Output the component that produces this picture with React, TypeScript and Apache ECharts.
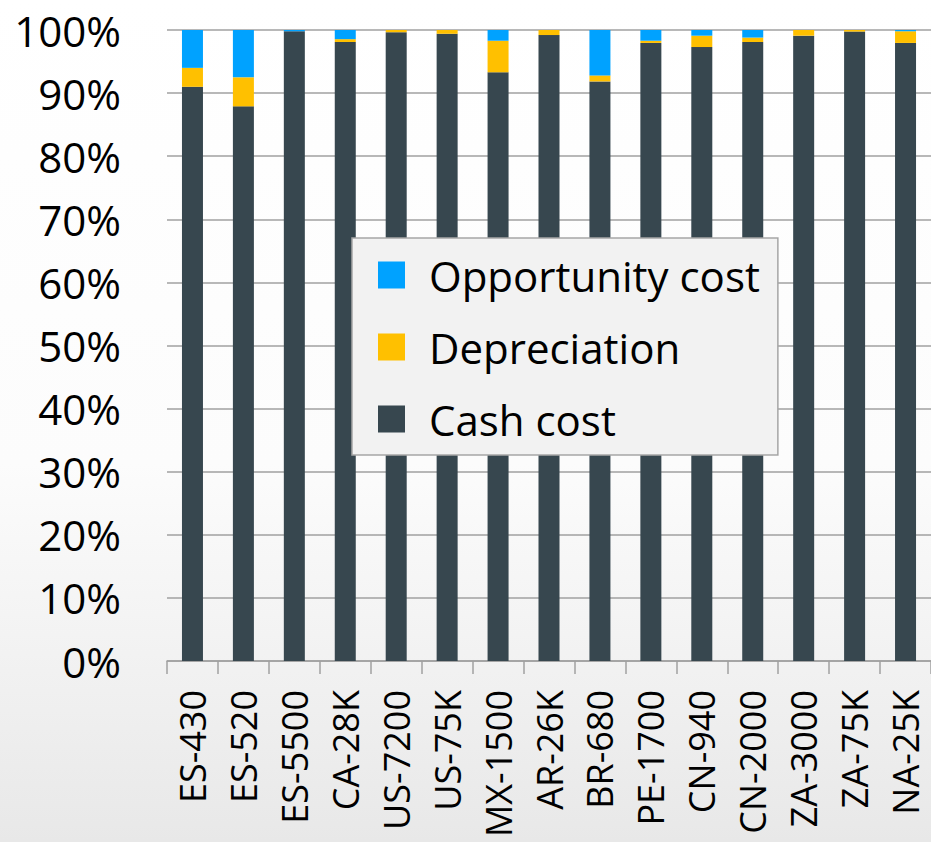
import React, { useEffect, useRef } from "react";
import * as echarts from "echarts";

const categories = ["ES-430", "ES-520", "ES-5500", "CA-28K", "US-7200", "US-75K", "MX-1500", "AR-26K", "BR-680", "PE-1700", "CN-940", "CN-2000", "ZA-3000", "ZA-75K", "NA-25K"];
const cashCost = [91.0, 87.9, 99.8, 98.1, 99.65, 99.4, 93.3, 99.2, 91.85, 97.95, 97.3, 98.1, 99.1, 99.75, 97.95];
const depreciation = [3.0, 4.6, 0, 0.45, 0.35, 0.6, 5.0, 0.8, 0.95, 0.35, 1.8, 0.7, 0.9, 0.25, 1.85];
const opportunityCost = [6.0, 7.5, 0.2, 1.45, 0, 0, 1.7, 0, 7.2, 1.7, 0.9, 1.2, 0, 0, 0.2];
const legendNames = ["Opportunity cost", "Depreciation", "Cash cost"];

export default function App() {
  const ref = useRef<HTMLDivElement>(null);
  useEffect(() => {
    if (!ref.current) return;
    const chart = echarts.init(ref.current, null, { renderer: "svg" });
    const barW = 21;
    chart.setOption({
      animation: false,
      backgroundColor: new echarts.graphic.LinearGradient(0, 0, 0, 1, [
        { offset: 0, color: "#ffffff" },
        { offset: 0.55, color: "#fcfcfc" },
        { offset: 1, color: "#e8e8e8" },
      ]),
      grid: { left: 167, right: -12, top: 30, bottom: 181, containLabel: false },
      legend: {
        data: legendNames,
        orient: "vertical",
        left: 352,
        top: 238,
        padding: [16, 18, 15, 26],
        backgroundColor: "#f2f2f2",
        borderColor: "#a6a6a6",
        borderWidth: 1.5,
        borderRadius: 0,
        itemWidth: 27,
        itemHeight: 27,
        itemGap: 30,
        itemStyle: { borderWidth: 0 },
        icon: "rect",
        textStyle: { fontFamily: "Open Sans", fontSize: 42, color: "#000", padding: [0, 0, 0, 19] },
      },
      xAxis: {
        type: "category",
        data: categories,
        boundaryGap: true,
        axisLine: { show: true, lineStyle: { color: "#a0a0a0", width: 1.5 } },
        axisTick: { show: true, length: 13, lineStyle: { color: "#a0a0a0", width: 1.5 } },
        axisLabel: { rotate: 90, margin: 29, fontFamily: "Open Sans", fontSize: 36, color: "#000", interval: 0 },
      },
      yAxis: {
        type: "value",
        min: 0,
        max: 100,
        interval: 10,
        axisLine: { show: false },
        axisTick: { show: false },
        splitLine: { show: true, lineStyle: { color: "#a0a0a0", width: 1.5 } },
        axisLabel: { formatter: "{value}%", margin: 46, fontFamily: "Open Sans", fontSize: 42, color: "#000" },
      },
      series: [
        { name: "Cash cost", type: "bar", stack: "t", data: cashCost, barWidth: barW, itemStyle: { color: "#37474F" } },
        { name: "Depreciation", type: "bar", stack: "t", data: depreciation, barWidth: barW, itemStyle: { color: "#FFC000" } },
        { name: "Opportunity cost", type: "bar", stack: "t", data: opportunityCost, barWidth: barW, itemStyle: { color: "#00A2FF" } },
      ],
    });
    return () => chart.dispose();
  }, []);
  return <div ref={ref} style={{ position: "fixed", left: 0, top: 0, width: 931, height: 842 }} />;
}
